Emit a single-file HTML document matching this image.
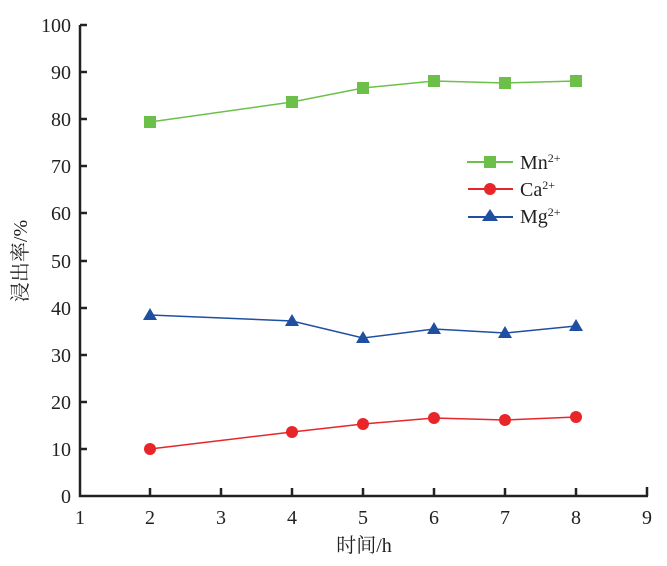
<!DOCTYPE html>
<html><head><meta charset="utf-8"><style>body{margin:0;background:#fff}</style></head><body>
<svg width="667" height="561" xmlns="http://www.w3.org/2000/svg" font-family="Liberation Serif, Noto Serif CJK SC, serif" font-size="20" fill="#222">
<g stroke="#222" stroke-width="2.5" fill="none">
<path d="M80,25 V496 H648"/>
<path d="M80,25h7M80,72h7M80,119h7M80,166h7M80,213h7M80,261h7M80,308h7M80,355h7M80,402h7M80,449h7"/>
<path d="M150,496v-8M221,496v-8M292,496v-8M363,496v-8M434,496v-8M505,496v-8M576,496v-8M647,496v-9"/>
</g>
<g text-anchor="end">
<text x="71" y="32">100</text><text x="71" y="79">90</text><text x="71" y="126">80</text><text x="71" y="173">70</text><text x="71" y="220">60</text><text x="71" y="268">50</text><text x="71" y="315">40</text><text x="71" y="362">30</text><text x="71" y="409">20</text><text x="71" y="456">10</text><text x="71" y="503">0</text>
</g>
<g text-anchor="middle">
<text x="80" y="524">1</text><text x="150" y="524">2</text><text x="221" y="524">3</text><text x="292" y="524">4</text><text x="363" y="524">5</text><text x="434" y="524">6</text><text x="505" y="524">7</text><text x="576" y="524">8</text><text x="647" y="524">9</text>
<text x="364" y="552">时间/h</text>
<text transform="translate(27,261) rotate(-90)">浸出率/%</text>
</g>
<polyline points="150,122 292,102 363,88 434,81 505,83 576,81" fill="none" stroke="#6cc04a" stroke-width="1.5"/>
<g fill="#6cc04a"><rect x="144" y="116" width="12" height="12"/><rect x="286" y="96" width="12" height="12"/><rect x="357" y="82" width="12" height="12"/><rect x="428" y="75" width="12" height="12"/><rect x="499" y="77" width="12" height="12"/><rect x="570" y="75" width="12" height="12"/></g>
<polyline points="150,449 292,432 363,424 434,418 505,420 576,417" fill="none" stroke="#e8262a" stroke-width="1.5"/>
<g fill="#e8262a"><circle cx="150" cy="449" r="6"/><circle cx="292" cy="432" r="6"/><circle cx="363" cy="424" r="6"/><circle cx="434" cy="418" r="6"/><circle cx="505" cy="420" r="6"/><circle cx="576" cy="417" r="6"/></g>
<polyline points="150,315 292,321 363,338 434,329 505,333 576,326" fill="none" stroke="#1f4fa0" stroke-width="1.5"/>
<g fill="#1f4fa0"><path d="M150,308l7,12h-14z"/><path d="M292,314l7,12h-14z"/><path d="M363,331l7,12h-14z"/><path d="M434,322l7,12h-14z"/><path d="M505,326l7,12h-14z"/><path d="M576,319l7,12h-14z"/></g>
<line x1="467" y1="162" x2="513" y2="162" stroke="#6cc04a" stroke-width="2"/><rect x="484" y="156" width="12" height="12" fill="#6cc04a"/>
<line x1="468" y1="189" x2="513" y2="189" stroke="#e8262a" stroke-width="2"/><circle cx="490" cy="189" r="6" fill="#e8262a"/>
<line x1="468" y1="217" x2="513" y2="217" stroke="#1f4fa0" stroke-width="2"/><path d="M490,209l8,12h-16z" fill="#1f4fa0"/>
<text x="520" y="169">Mn<tspan font-size="12" dy="-7">2+</tspan></text>
<text x="520" y="196">Ca<tspan font-size="12" dy="-7">2+</tspan></text>
<text x="520" y="223">Mg<tspan font-size="12" dy="-7">2+</tspan></text>
</svg>
</body></html>
